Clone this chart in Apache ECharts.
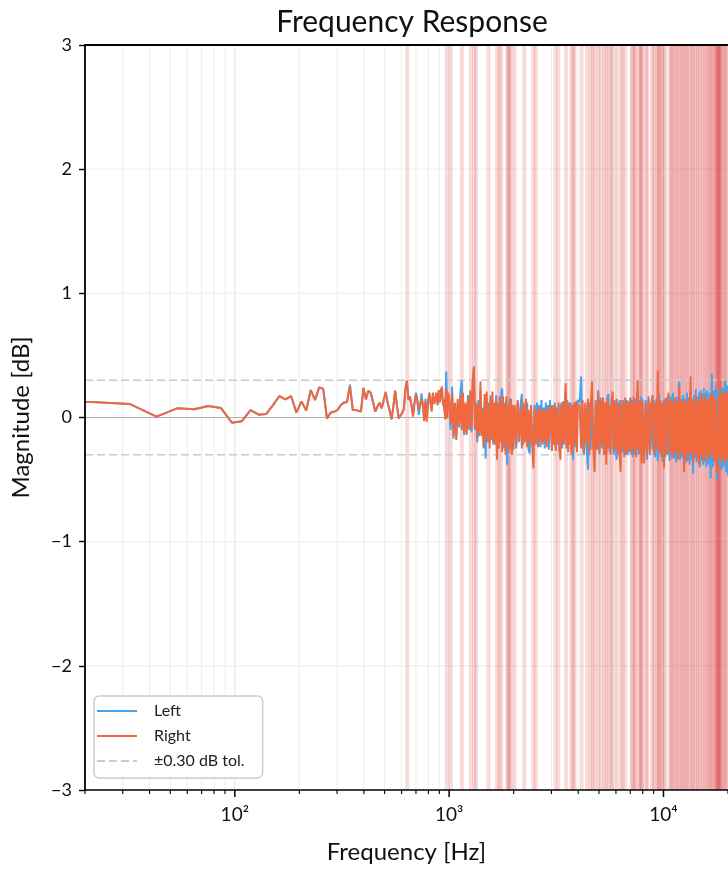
<!DOCTYPE html>
<html>
<head>
<meta charset="utf-8">
<script src="https://cdn.jsdelivr.net/npm/echarts@6/dist/echarts.min.js"></script>
<style>
html,body{margin:0;padding:0;background:#fff;}
#chart{width:728px;height:872px;}
</style>
</head>
<body>
<div id="chart"></div>
<script>
// ---------- DATA ----------
// FFT-bin frequencies below 1 kHz (Hz)
const lowFreqs = [10.8,21.5,32.3,43.1,53.8,64.6,75.4,86.1,96.9,107.7,
118.4,129.2,140.0,150.7,161.5,172.3,183.0,193.8,204.6,215.3,
226.1,236.9,247.6,258.4,269.2,279.9,290.7,301.4,312.2,323.0,
333.7,344.5,355.3,366.0,376.8,387.6,398.3,409.1,419.9,430.6,
441.4,452.2,462.9,473.7,484.5,495.2,506.0,516.8,527.5,538.3,
549.1,559.8,570.6,581.4,592.1,602.9,613.7,624.4,635.2,646.0,
656.7,667.5,678.3,689.0,699.8,710.6,721.3,732.1,742.9,753.6,
764.4,775.2,785.9,796.7,807.5,818.2,829.0,839.8,850.5,861.3,
872.0,882.8,893.6,904.3,915.1,925.9,936.6,947.4,958.2,968.9,
979.7,990.5,1001.2];
const lowRight = [0.13,0.125,0.109,0.007,0.074,0.066,0.093,0.077,-0.042,-0.031,
0.06,0.023,0.028,0.1,0.173,0.146,0.173,0.039,0.13,0.055,
0.221,0.141,0.243,0.232,-0.01,0.04,0.047,0.06,0.1,0.12,
0.125,0.255,0.06,0.06,0.055,0.047,0.238,0.146,0.216,0.2,
0.127,0.047,0.087,0.12,0.074,0.14,0.205,0.114,0.06,-0.015,
0.087,0.216,0.1,-0.007,-0.02,0.034,0.066,0.22,0.297,0.141,
0.168,0.087,0.007,0.114,0.19,0.127,0.06,0.1,0.15,0.114,
-0.03,0.13,-0.034,0.12,0.195,0.14,0.047,0.2,0.11,0.14,
0.195,0.11,0.22,0.12,0.22,0.25,0.1,0.15,-0.015,0.235,
-0.007,0.2,0.13];
const lowLeft = [0.13,0.125,0.109,0.007,0.074,0.066,0.093,0.077,-0.042,-0.031,
0.06,0.023,0.028,0.1,0.173,0.146,0.173,0.039,0.13,0.055,
0.221,0.141,0.243,0.232,-0.01,0.04,0.047,0.06,0.1,0.12,
0.125,0.265,0.06,0.06,0.055,0.047,0.238,0.146,0.216,0.2,
0.127,0.047,0.087,0.12,0.074,0.14,0.205,0.114,0.06,-0.015,
0.087,0.216,0.1,-0.007,-0.02,0.034,0.066,0.22,0.29,0.15,
0.17,0.1,0.02,0.12,0.2,0.15,0.02,0.09,0.195,0.1,
-0.007,0.15,0.0,0.1,0.2,0.12,0.06,0.18,0.12,0.15,
0.2,0.1,0.2,0.13,0.23,0.24,0.12,0.12,0.03,0.37,
0.06,0.18,0.1];

// 1 kHz - 2 kHz
const freqs1 = [1016,1032,1048,1064,1080,1096,1112,1128,1144,1160,1176,1192,1208,1224,1240,1256,1272,1288,1304,1320,1336,1352,1368,1384,1400,1416,1432,1448,1464,1480,1496,1512,1528,1544,1560,1576,1592,1608,1624,1640,1656,1672,1688,1704,1720,1736,1752,1768,1784,1800,1816,1832,1848,1864,1880,1896,1912,1928,1944,1960,1976,1992];
const right1 = [-0.05,0.2,-0.15,0.12,-0.18,0.15,-0.05,0.18,-0.1,0.2,
-0.12,0.12,-0.14,0.15,-0.08,0.22,-0.1,0.3,0.4,-0.08,
0.12,-0.17,0.1,-0.12,0.29,-0.15,0.05,-0.23,0.19,-0.2,
0.21,-0.15,0.1,-0.25,0.15,-0.18,0.21,-0.2,0.12,-0.22,
0.15,-0.34,0.1,-0.25,0.17,-0.2,0.12,-0.28,0.17,-0.22,
0.1,-0.3,0.17,-0.2,0.08,-0.28,0.12,-0.25,0.15,-0.3,
0.1,-0.26];
const left1 = [-0.1,0.25,-0.17,0.1,-0.15,0.12,-0.08,0.2,0.3,-0.05,
-0.14,0.1,-0.12,0.18,-0.1,0.2,-0.12,0.28,0.41,-0.1,
0.1,-0.2,0.14,-0.15,0.22,-0.12,0.08,-0.25,0.12,-0.33,
0.15,-0.2,0.12,-0.2,0.18,-0.15,0.15,-0.22,0.1,-0.2,
0.18,-0.28,0.12,-0.22,0.15,-0.18,0.2,0.235,-0.15,-0.25,
0.12,-0.27,0.14,-0.38,0.1,-0.25,0.15,-0.22,0.12,-0.29,
0.08,-0.24];

// 2 kHz - 4 kHz
const freqs2 = [2024,2056,2088,2120,2152,2184,2216,2248,2280,2312,2344,2376,2408,2440,2472,2504,2536,2568,2600,2632,2664,2696,2728,2760,2792,2824,2856,2888,2920,2952,2984,3016,3048,3080,3112,3144,3176,3208,3240,3272,3304,3336,3368,3400,3432,3464,3496,3528,3560,3592,3624,3656,3688,3720,3752,3784,3816,3848,3880,3912,3944,3976];
const right2 = [0.1,-0.22,0.14,-0.18,0.08,-0.25,0.12,-0.2,0.15,-0.24,
0.06,-0.22,0.1,-0.18,-0.41,0.08,-0.2,0.05,-0.24,0.08,
-0.18,0.06,-0.22,0.07,-0.2,0.05,-0.24,0.08,-0.18,0.06,
0.1,-0.27,0.08,-0.22,0.1,-0.27,0.05,-0.2,0.12,-0.25,
-0.34,0.1,-0.22,0.13,-0.2,0.1,0.275,-0.25,0.1,-0.28,
0.12,-0.22,0.08,-0.3,0.1,-0.26,0.12,-0.22,0.09,0.13,
-0.28,0.1];
const left2 = [0.08,-0.25,0.12,-0.2,0.1,0.19,-0.22,0.1,-0.2,0.12,
-0.26,-0.29,0.08,-0.2,-0.3,0.1,-0.22,0.12,-0.2,0.1,
-0.24,0.14,-0.2,0.08,-0.25,0.12,-0.2,0.1,-0.26,0.14,
0.155,-0.24,0.1,-0.2,0.12,-0.25,0.08,-0.22,0.1,-0.28,
-0.2,0.12,-0.25,0.1,-0.22,0.12,0.2,-0.22,0.14,-0.25,
0.1,-0.2,0.12,-0.26,0.08,-0.34,0.1,-0.24,0.12,0.1,
-0.25,0.14];

// 4 kHz - 8 kHz
const freqs3 = [4064,4128,4192,4256,4320,4384,4448,4512,4576,4640,4704,4768,4832,4896,4960,5024,5088,5152,5216,5280,5344,5408,5472,5536,5600,5664,5728,5792,5856,5920,5984,6048,6112,6176,6240,6304,6368,6432,6496,6560,6624,6688,6752,6816,6880,6944,7008,7072,7136,7200,7264,7328,7392,7456,7520,7584,7648,7712,7776,7840,7904,7968];
const right3 = [0.1,-0.25,0.14,-0.28,0.12,-0.22,0.15,-0.3,0.1,0.29,
-0.25,-0.44,0.12,-0.26,0.2,-0.28,0.14,-0.22,0.16,-0.3,
0.12,-0.38,0.15,-0.25,0.1,-0.3,0.13,0.21,-0.27,0.12,
-0.24,0.15,-0.3,0.1,-0.28,-0.44,0.14,-0.25,0.12,-0.3,
0.16,-0.3,0.1,-0.27,0.13,-0.24,0.15,-0.3,0.12,-0.26,
0.17,-0.28,0.11,-0.32,0.15,0.3,-0.25,0.12,-0.3,0.14,
-0.37,0.12];
const left3 = [0.12,0.33,-0.2,-0.3,0.1,-0.25,-0.42,0.12,-0.26,0.18,
-0.22,-0.3,0.14,-0.24,0.22,-0.3,0.16,-0.25,0.14,-0.28,
0.12,-0.3,0.16,0.19,-0.28,-0.24,0.12,0.15,-0.3,0.14,
-0.26,-0.34,0.12,-0.28,0.14,-0.3,0.1,-0.28,0.14,-0.32,
0.12,-0.25,0.14,-0.3,0.12,-0.28,0.16,-0.26,0.14,-0.32,
0.12,-0.3,0.15,-0.28,0.12,0.2,-0.3,0.14,-0.28,0.17,
-0.33,0.15];

// 8 kHz - 16 kHz
const freqs4 = [8128,8256,8384,8512,8640,8768,8896,9024,9152,9280,9408,9536,9664,9792,9920,10048,10176,10304,10432,10560,10688,10816,10944,11072,11200,11328,11456,11584,11712,11840,11968,12096,12224,12352,12480,12608,12736,12864,12992,13120,13248,13376,13504,13632,13760,13888,14016,14144,14272,14400,14528,14656,14784,14912,15040,15168,15296,15424,15552,15680,15808,15936];
const right4 = [-0.37,0.12,-0.3,0.15,-0.28,0.1,0.18,-0.3,0.12,-0.26,
0.38,-0.28,0.14,-0.32,0.12,-0.41,0.15,-0.3,0.12,0.2,
-0.28,0.14,-0.33,0.12,-0.3,0.16,-0.27,0.13,-0.34,0.25,
-0.3,0.14,-0.28,0.12,-0.44,0.15,-0.3,0.13,-0.35,0.16,
-0.28,0.33,-0.3,0.14,-0.36,0.12,-0.3,0.18,-0.32,0.14,
-0.3,-0.38,0.16,-0.3,0.2,-0.33,0.14,-0.36,0.18,-0.3,
0.15,-0.34];
const left4 = [-0.3,0.14,-0.34,0.17,-0.3,0.12,-0.26,0.14,-0.32,0.15,
-0.35,0.19,-0.3,0.12,-0.36,0.14,-0.32,0.16,-0.3,0.12,
-0.35,0.17,-0.3,0.2,-0.33,0.14,-0.36,0.17,-0.3,0.29,
-0.34,0.15,-0.32,0.18,-0.43,0.14,-0.36,0.2,-0.32,0.16,
-0.38,0.22,-0.34,0.15,-0.45,0.18,-0.33,0.23,-0.36,0.17,
-0.34,0.2,-0.4,0.22,-0.35,0.19,-0.38,0.24,-0.36,0.2,
-0.4,0.22];

// 16 kHz - 20 kHz
const freqs5 = [16200,16400,16600,16800,17000,17200,17400,17600,17800,18000,18200,18400,18600,18800,19000,19200,19400,19600,19800,20000];
const right5 = [0.15,-0.33,0.18,-0.3,0.2,-0.36,0.16,-0.3,-0.45,0.17,-0.33,0.3,-0.36,0.18,-0.32,0.2,-0.38,0.22,-0.34,0.2];
const left5 = [-0.38,0.2,-0.49,0.355,-0.4,0.22,-0.36,0.25,-0.5,0.2,-0.38,0.29,-0.42,0.24,-0.4,0.22,0.3,-0.44,0.26,-0.47];

// frequencies where the channels differ beyond tolerance (shaded)
const diffBands = [638,975,1018,1147,1263,1309,1337,1526,1671,1713,1750,1866,1890,1907,1938,2020,2241,2469,2536,3128,3230,
3511,3720,3790,3850,4150,4400,4570,4680,4800,4970,5130,5300,5420,5560,5720,5780,6050,6330,6450,6640,
7130,7200,7350,7400,7700,7780,7880,7950,8300,8400,8850,9000,9300,9400,9550,9650,9800,10000,10200,
10700,10850,11000,11200,11450,11600,11800,12050,12200,12400,12650,12800,13000,13300,13600,13700,14000,
14300,14500,14800,15100,15400,15700,15900,16200,16500,16600,16900,17200,17400,17600,17800,17900,18000,
18100,18200,18300,18500,18700,19000,19300,19500,19800];

const tolerance = 0.30;
const gridFreqs = [20,30,40,50,60,70,80,90,100,200,300,400,500,600,700,800,900,1000,2000,3000,4000,5000,6000,7000,8000,9000,10000,20000];
const majorFreqs = [100,1000,10000];
const gridLevels = [-2,-1,1,2];
const xRange = [20,20000];
const yRange = [-3,3];

// ---------- BUILD ----------
const allFreqs = lowFreqs.concat(freqs1,freqs2,freqs3,freqs4,freqs5);
const allLeft = lowLeft.concat(left1,left2,left3,left4,left5);
const allRight = lowRight.concat(right1,right2,right3,right4,right5);
const n = Math.min(allFreqs.length, allLeft.length, allRight.length);
const leftData = [], rightData = [];
for (let i = 0; i < n; i++) { leftData.push([allFreqs[i], allLeft[i]]); rightData.push([allFreqs[i], allRight[i]]); }

const FONT = 'Lato';
const sup = {2:'\u00b2',3:'\u00b3',4:'\u2074'};
const TOL_NAME = '\u00b10.30 dB tol.';
const LINE_ICON = 'path://M0,0H40V2H0Z';
const DASH_ICON = 'path://M0,0H8V2H0Z M12,0H20V2H12Z M24,0H32V2H24Z M36,0H40V2H36Z';

const chart = echarts.init(document.getElementById('chart'), null, {renderer:'canvas'});
chart.setOption({
  animation: false,
  backgroundColor: '#ffffff',
  textStyle: {fontFamily: FONT},
  title: {
    text: 'Frequency Response', left: 407, top: 2, textAlign: 'center',
    textStyle: {fontFamily: FONT, fontSize: 30, fontWeight: 'normal', color: '#111'}
  },
  legend: {
    orient: 'vertical', left: 94, top: 696,
    data: [{name:'Left', icon: LINE_ICON}, {name:'Right', icon: LINE_ICON}, {name: TOL_NAME, icon: DASH_ICON}],
    itemWidth: 40, itemHeight: 2, itemGap: 9,
    padding: [7, 18, 9, 3],
    backgroundColor: 'rgba(255,255,255,0.85)',
    borderColor: '#cccccc', borderWidth: 1.5, borderRadius: 5,
    textStyle: {fontFamily: FONT, fontSize: 16, color: '#222', padding: [0,0,0,12]}
  },
  grid: {left: 85, right: 0, top: 45, bottom: 82, containLabel: false},
  xAxis: [{
    type: 'log', logBase: 10, min: xRange[0], max: xRange[1], z: 10,
    name: 'Frequency [Hz]', nameLocation: 'middle', nameGap: 50,
    nameTextStyle: {fontFamily: FONT, fontSize: 24, color: '#111'},
    axisLine: {show: true, onZero: false, lineStyle: {color: '#000', width: 1.6}},
    axisTick: {show: false}, splitLine: {show: false}, minorTick: {show:false},
    axisLabel: {
      fontFamily: FONT, fontSize: 19, color: '#111', margin: 15,
      showMinLabel: false, showMaxLabel: false,
      formatter: function (v) {
        const e = Math.round(Math.log10(v));
        return Math.abs(v - Math.pow(10, e)) < 1e-6 * v && sup[e] ? '10' + sup[e] : '';
      }
    }
  }, {
    type: 'log', logBase: 10, min: xRange[0], max: xRange[1], position: 'top', z: 10,
    axisLine: {show: true, onZero: false, lineStyle: {color: '#000', width: 1.8}},
    axisTick: {show: false}, axisLabel: {show: false}, splitLine: {show: false}
  }],
  yAxis: {
    type: 'value', min: yRange[0], max: yRange[1], interval: 1, z: 10,
    name: 'Magnitude [dB]', nameLocation: 'middle', nameGap: 52,
    nameTextStyle: {fontFamily: FONT, fontSize: 24, color: '#111'},
    axisLine: {show: true, onZero: false, lineStyle: {color: '#000', width: 1.8}},
    axisTick: {show: true, length: 6, lineStyle: {color: '#000', width: 1.4}},
    splitLine: {show: false},
    axisLabel: {
      fontFamily: FONT, fontSize: 18, color: '#111', margin: 13,
      formatter: function (v) { return v < 0 ? '\u2212' + Math.abs(v) : String(v); }
    }
  },
  series: [
    { // vertical grid lines (major + minor)
      type: 'custom', name: 'vgrid', z: 1, silent: true,
      data: gridFreqs.map(f => [f, 0]),
      renderItem: function (params, api) {
        const f = api.value(0);
        const top = api.coord([f, yRange[1]]);
        const bot = api.coord([f, yRange[0]]);
        const major = majorFreqs.indexOf(f) >= 0;
        return {type: 'line', shape: {x1: top[0], y1: top[1], x2: bot[0], y2: bot[1]},
          style: {stroke: major ? '#e2e2e2' : '#ededed', lineWidth: 1}};
      }
    },
    { // horizontal grid lines
      type: 'custom', name: 'hgrid', z: 1, silent: true,
      data: gridLevels.map(v => [xRange[0], v]),
      renderItem: function (params, api) {
        const v = api.value(1);
        const a = api.coord([xRange[0], v]);
        const b = api.coord([xRange[1], v]);
        return {type: 'line', shape: {x1: a[0], y1: a[1], x2: b[0], y2: b[1]},
          style: {stroke: '#ededed', lineWidth: 1}};
      }
    },
    { // bottom tick marks (major + minor)
      type: 'custom', name: 'ticks', z: 11, silent: true, clip: false,
      data: gridFreqs.map(f => [f, 0]),
      renderItem: function (params, api) {
        const f = api.value(0);
        const p = api.coord([f, yRange[0]]);
        const major = majorFreqs.indexOf(f) >= 0;
        return {type: 'line', shape: {x1: p[0], y1: p[1], x2: p[0], y2: p[1] + (major ? 7 : 4)},
          style: {stroke: '#000', lineWidth: major ? 1.5 : 1.1}};
      }
    },
    { // shaded difference bands
      type: 'custom', name: 'diff', z: 2, silent: true,
      data: diffBands.map(f => [f, 0]),
      renderItem: function (params, api) {
        const f = api.value(0);
        const top = api.coord([f, yRange[1]]);
        const bot = api.coord([f, yRange[0]]);
        return {type: 'rect', shape: {x: top[0] - 2, y: top[1], width: 4, height: bot[1] - top[1]},
          style: {fill: 'rgba(214,39,40,0.17)'}};
      }
    },
    { type: 'line', name: 'zero', z: 3, silent: true, symbol: 'none',
      data: [[xRange[0], 0], [xRange[1], 0]],
      lineStyle: {color: '#b0b0b0', width: 1} },
    { type: 'line', name: TOL_NAME, z: 3, silent: true, symbol: 'none',
      data: [[xRange[0], tolerance], [xRange[1], tolerance]],
      itemStyle: {color: '#cccccc'},
      lineStyle: {color: '#cccccc', width: 1.6, type: [8, 4]} },
    { type: 'line', name: TOL_NAME, z: 3, silent: true, symbol: 'none',
      data: [[xRange[0], -tolerance], [xRange[1], -tolerance]],
      itemStyle: {color: '#cccccc'},
      lineStyle: {color: '#cccccc', width: 1.6, type: [8, 4]} },
    { type: 'line', name: 'Left', z: 4, symbol: 'none', sampling: false,
      data: leftData, itemStyle: {color: '#44a4f2'},
      lineStyle: {color: '#44a4f2', width: 2} },
    { type: 'line', name: 'Right', z: 5, symbol: 'none', sampling: false,
      data: rightData, itemStyle: {color: '#f0683e'},
      lineStyle: {color: '#f0683e', width: 2} }
  ]
});
</script>
</body>
</html>
